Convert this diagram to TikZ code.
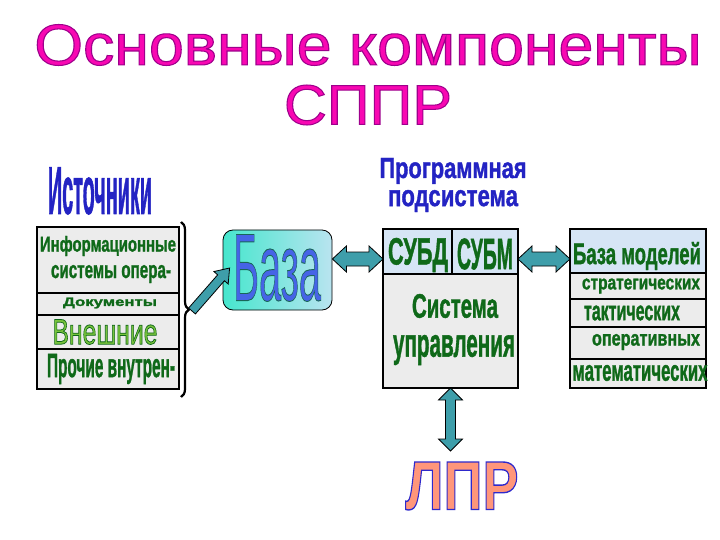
\documentclass[tikz,border=0pt]{standalone}
\usepackage{fontspec}
\setmainfont{Liberation Sans}
\newfontfamily\heavyfont[FakeBold=1.5]{Liberation Sans Bold}
\usepackage{graphicx}
\usetikzlibrary{calc,decorations.pathreplacing}
\definecolor{titlemag}{RGB}{248,8,178}
\definecolor{headblue}{RGB}{35,35,195}
\definecolor{tgreen}{RGB}{15,105,25}
\definecolor{lightgreen}{RGB}{120,195,60}
\definecolor{cellgrey}{RGB}{236,236,236}
\definecolor{cellblue}{RGB}{214,229,245}
\definecolor{arrowteal}{RGB}{62,158,170}
\definecolor{bazablue}{RGB}{70,100,230}
\definecolor{aquaA}{RGB}{70,230,205}
\definecolor{aquaB}{RGB}{185,228,240}
\definecolor{lprsalmon}{RGB}{255,150,122}
\newcommand{\fittxt}[3]{\resizebox*{#1pt}{#2pt}{#3}}
% outlined text: {stroke rgb}{stroke width}{text}
\newcommand{\outlinetxt}[3]{\special{pdf:literal direct 2 Tr #2 w #1 RG}#3\special{pdf:literal direct 0 Tr}}
\newcommand{\fatarrowone}[2]{%
  \draw[fatarrow] let \p1=(#1), \p2=(#2), \n1={atan2(\y2-\y1,\x2-\x1)}, \n2={veclen(\x2-\x1,\y2-\y1)} in
  ($(\p1)+({\n1+90}:4.5pt)$) -- ($(\p1)+(\n1:{\n2-13pt})+({\n1+90}:4.5pt)$) -- ($(\p1)+(\n1:{\n2-13pt})+({\n1+90}:9.5pt)$) -- (\p2)
  -- ($(\p1)+(\n1:{\n2-13pt})+({\n1-90}:9.5pt)$) -- ($(\p1)+(\n1:{\n2-13pt})+({\n1-90}:4.5pt)$) -- ($(\p1)+({\n1-90}:4.5pt)$) -- cycle;}
\newcommand{\fatarrowtwo}[5]{%
  \draw[fatarrow] let \p1=(#1), \p2=(#2), \n1={atan2(\y2-\y1,\x2-\x1)}, \n2={veclen(\x2-\x1,\y2-\y1)} in
  (\p1) -- ($(\p1)+(\n1:#5)+({\n1+90}:#4)$) -- ($(\p1)+(\n1:#5)+({\n1+90}:#3)$)
  -- ($(\p1)+(\n1:{\n2-#5})+({\n1+90}:#3)$) -- ($(\p1)+(\n1:{\n2-#5})+({\n1+90}:#4)$) -- (\p2)
  -- ($(\p1)+(\n1:{\n2-#5})+({\n1-90}:#4)$) -- ($(\p1)+(\n1:{\n2-#5})+({\n1-90}:#3)$)
  -- ($(\p1)+(\n1:#5)+({\n1-90}:#3)$) -- ($(\p1)+(\n1:#5)+({\n1-90}:#4)$) -- cycle;}
\tikzset{
  txt/.style={inner sep=0pt,outer sep=0pt,anchor=center},
  cellg/.style={draw=black,line width=1.3pt,fill=cellgrey,inner sep=0pt,outer sep=0pt},
  cellb/.style={draw=black,line width=1.3pt,fill=cellblue,inner sep=0pt,outer sep=0pt},
  fatarrow/.style={draw=black,line width=0.8pt,fill=arrowteal,line join=miter}
}
\begin{document}
\begin{tikzpicture}[x=1pt,y=-1pt]
\useasboundingbox[fill=white] (0,0) rectangle (720,540);

% titles
\node[txt,text=titlemag] (title1) at (368,45) {\fittxt{667}{41}{\outlinetxt{0.62 0 0.55}{0.18}{Основные компоненты}}};
\node[txt,text=titlemag] (title2) at (368,105) {\fittxt{168}{40}{\outlinetxt{0.62 0 0.55}{0.18}{СППР}}};

% headings
\node[txt,text=headblue] (srchead) at (100,191) {\fittxt{104}{47}{\heavyfont Источники}};
\node[txt,text=headblue] (prog1) at (453,171) {\fittxt{147}{26}{\heavyfont Программная}};
\node[txt,text=headblue] (prog2) at (453,201) {\fittxt{130}{22}{\heavyfont подсистема}};

% sources box
\node[cellg,minimum width=142,minimum height=66] (srcA) at (108,260) {};
\node[cellg,minimum width=142,minimum height=22] (srcB) at (108,304) {};
\node[cellg,minimum width=142,minimum height=34] (srcC) at (108,332) {};
\node[cellg,minimum width=142,minimum height=40] (srcD) at (108,369) {};
\node[txt,text=tgreen] (srcA1) at (108,246) {\fittxt{136}{20}{\heavyfont Информационные}};
\node[txt,text=tgreen] (srcA2) at (111,274) {\fittxt{120}{18}{\heavyfont системы опера-}};
\node[txt,text=tgreen] (srcBt) at (110,303) {\fittxt{94}{11}{\heavyfont Документы}};
\node[txt,text=lightgreen] (srcCt) at (105,332) {\fittxt{105}{25}{\outlinetxt{0.06 0.4 0.1}{0.22}{Внешние}}};
\node[txt,text=tgreen] (srcDt) at (111,369) {\fittxt{128}{30}{\heavyfont Прочие внутрен-}};

% brace and arrow
\draw[line width=2.2pt,decorate,decoration={brace,amplitude=8pt}] (181,222) -- (181,397);
\coordinate (tailpt) at (192,311);

% База
\node[rounded corners=10pt,draw=black,line width=0.8pt,left color=aquaA,right color=aquaB,
      minimum width=109,minimum height=80,inner sep=0pt] (baza) at (277.5,270) {};
\node[txt,text=bazablue] (bazat) at (277,268) {\fittxt{88}{67}{\outlinetxt{0.1 0.4 0.35}{0.1}{База}}};
\coordinate (headpt) at ($(baza.west)+(7,-2)$);
\fatarrowone{tailpt}{headpt}

% program subsystem box
\node[cellb,minimum width=69,minimum height=45] (subd) at (417.5,251.5) {};
\node[cellb,minimum width=66,minimum height=45] (subm) at (485,251.5) {};
\node[cellg,minimum width=135,minimum height=114] (sysbox) at (450.5,331) {};
\node[txt,text=tgreen] (subdt) at (418,255) {\fittxt{60}{34}{\heavyfont СУБД}};
\node[txt,text=tgreen] (submt) at (485,254) {\fittxt{56}{31}{\heavyfont СУБМ}};
\node[txt,text=tgreen] (sys1) at (455,306) {\fittxt{86}{24}{\heavyfont Система}};
\node[txt,text=tgreen] (sys2) at (454,350) {\fittxt{122}{30}{\heavyfont управления}};

% model base box
\node[cellb,minimum width=136,minimum height=44] (rb1) at (638,251) {};
\node[cellg,minimum width=136,minimum height=26] (rb2) at (638,286) {};
\node[cellg,minimum width=136,minimum height=28] (rb3) at (638,313) {};
\node[cellg,minimum width=136,minimum height=32] (rb4) at (638,343) {};
\node[cellg,minimum width=136,minimum height=29] (rb5) at (638,373.5) {};
\node[txt,text=tgreen] (rb1t) at (637,256) {\fittxt{128}{28}{\heavyfont База моделей}};
\node[txt,text=tgreen] (rb2t) at (641,286) {\fittxt{118}{15}{\heavyfont стратегических}};
\node[txt,text=tgreen] (rb3t) at (632,313) {\fittxt{96}{15}{\heavyfont тактических}};
\node[txt,text=tgreen] (rb4t) at (646,342) {\fittxt{108}{16}{\heavyfont оперативных}};
\node[txt,text=tgreen] (rb5t) at (640,373) {\fittxt{135}{16}{\heavyfont математических}};

% double arrows
\coordinate (armrow) at (0,259);
\fatarrowtwo{baza.east |- armrow}{subd.west |- armrow}{7pt}{13pt}{14pt}
\fatarrowtwo{subm.east |- armrow}{rb1.west |- armrow}{7pt}{13pt}{14pt}
\coordinate (lprtop) at (0,451);
\fatarrowtwo{sysbox.south}{sysbox.south |- lprtop}{5pt}{12pt}{12pt}

% ЛПР
\node[txt,text=lprsalmon] (lpr) at (462,486) {\fittxt{113}{48}{\bfseries\outlinetxt{0.18 0.16 0.8}{0.2}{ЛПР}}};
\end{tikzpicture}
\end{document}
